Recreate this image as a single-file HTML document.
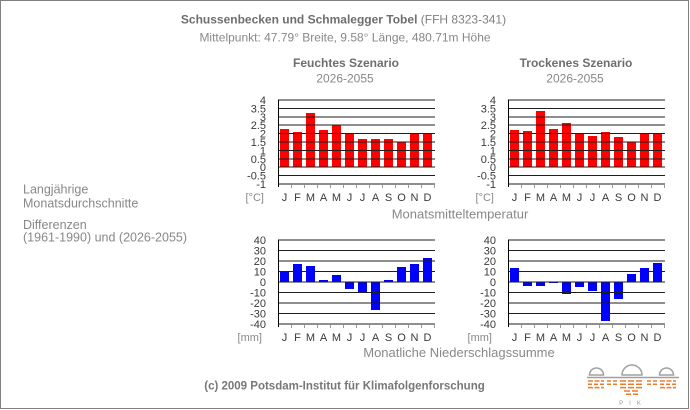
<!DOCTYPE html>
<html><head><meta charset="utf-8"><style>
html,body{margin:0;padding:0;background:#fff;}
svg{display:block;}
text{font-family:"Liberation Sans",Arial,sans-serif;}
</style></head><body>
<svg width="690" height="410" viewBox="0 0 690 410" xmlns="http://www.w3.org/2000/svg">
<rect x="0.5" y="0.5" width="688" height="408" fill="#fff" stroke="#808080" stroke-width="1"/>

<!-- Header -->
<text x="343.5" y="23.5" font-size="12" text-anchor="middle" fill="#6e6e6e"><tspan font-weight="bold">Schussenbecken und Schmalegger Tobel</tspan><tspan fill="#808080"> (FFH 8323-341)</tspan></text>
<text x="345" y="41.5" font-size="12" text-anchor="middle" fill="#888">Mittelpunkt: 47.79° Breite, 9.58° Länge, 480.71m Höhe</text>

<text x="346" y="67" font-size="12" font-weight="bold" text-anchor="middle" fill="#6e6e6e">Feuchtes Szenario</text>
<text x="345" y="82.5" font-size="12" text-anchor="middle" fill="#888">2026-2055</text>
<text x="576" y="67" font-size="12" font-weight="bold" text-anchor="middle" fill="#6e6e6e">Trockenes Szenario</text>
<text x="575" y="82.5" font-size="12" text-anchor="middle" fill="#888">2026-2055</text>

<!-- Left description -->
<g font-size="12.5" fill="#888">
<text x="23" y="193.5">Langjährige</text>
<text x="23" y="207.5">Monatsdurchschnitte</text>
<text x="23" y="229">Differenzen</text>
<text x="23" y="241.5">(1961-1990) und (2026-2055)</text>
</g>

<text x="460" y="218.5" font-size="13" text-anchor="middle" fill="#888">Monatsmitteltemperatur</text>
<text x="459" y="357" font-size="13" text-anchor="middle" fill="#888">Monatliche Niederschlagssumme</text>

<!-- ============ TEMP LEFT ============ -->
<g shape-rendering="crispEdges">
<g fill="#ff0000">
<rect x="280" y="129" width="9" height="38"/>
<rect x="293" y="132" width="9" height="35"/>
<rect x="306" y="113" width="9" height="54"/>
<rect x="319" y="130" width="9" height="37"/>
<rect x="332" y="125" width="9" height="42"/>
<rect x="345" y="133" width="9" height="34"/>
<rect x="358" y="139" width="9" height="28"/>
<rect x="371" y="139" width="9" height="28"/>
<rect x="384" y="139" width="9" height="28"/>
<rect x="397" y="142" width="9" height="25"/>
<rect x="410" y="133" width="9" height="34"/>
<rect x="423" y="133" width="9" height="34"/>
</g>
<g stroke="#1e1e1e" stroke-width="1">
<line x1="278" x2="435" y1="100" y2="100"/>
<line x1="278" x2="435" y1="108.4" y2="108.4"/>
<line x1="278" x2="435" y1="116.8" y2="116.8"/>
<line x1="278" x2="435" y1="125.2" y2="125.2"/>
<line x1="278" x2="435" y1="133.6" y2="133.6"/>
<line x1="278" x2="435" y1="142" y2="142"/>
<line x1="278" x2="435" y1="150.4" y2="150.4"/>
<line x1="278" x2="435" y1="158.8" y2="158.8"/>
<line x1="278" x2="435" y1="167.2" y2="167.2"/>
<line x1="278" x2="435" y1="175.6" y2="175.6"/>
<line x1="278" x2="435" y1="184" y2="184"/>
</g>
<line x1="278.5" x2="278.5" y1="99.5" y2="187" stroke="#000"/>
<g stroke="#999">
<line x1="291.5" x2="291.5" y1="185" y2="188"/><line x1="304.5" x2="304.5" y1="185" y2="188"/><line x1="317.5" x2="317.5" y1="185" y2="188"/><line x1="330.5" x2="330.5" y1="185" y2="188"/><line x1="343.5" x2="343.5" y1="185" y2="188"/><line x1="356.5" x2="356.5" y1="185" y2="188"/><line x1="369.5" x2="369.5" y1="185" y2="188"/><line x1="382.5" x2="382.5" y1="185" y2="188"/><line x1="395.5" x2="395.5" y1="185" y2="188"/><line x1="408.5" x2="408.5" y1="185" y2="188"/><line x1="421.5" x2="421.5" y1="185" y2="188"/><line x1="434.5" x2="434.5" y1="185" y2="188"/>
</g>
</g>
<g font-size="11" fill="#3a3a3a" text-anchor="end">
<text x="266" y="104">4</text><text x="266" y="112.4">3.5</text><text x="266" y="120.8">3</text><text x="266" y="129.2">2.5</text><text x="266" y="137.6">2</text><text x="266" y="146">1.5</text><text x="266" y="154.4">1</text><text x="266" y="162.8">0.5</text><text x="266" y="171.2">0</text><text x="266" y="179.6">-0.5</text><text x="266" y="188">-1</text>
</g>
<text x="264" y="201" font-size="11" fill="#888" text-anchor="end">[°C]</text>
<g font-size="11" fill="#3a3a3a" text-anchor="middle">
<text x="284.5" y="201">J</text><text x="297.5" y="201">F</text><text x="310.5" y="201">M</text><text x="323.5" y="201">A</text><text x="336.5" y="201">M</text><text x="349.5" y="201">J</text><text x="362.5" y="201">J</text><text x="375.5" y="201">A</text><text x="388.5" y="201">S</text><text x="401.5" y="201">O</text><text x="414.5" y="201">N</text><text x="427.5" y="201">D</text>
</g>

<!-- ============ TEMP RIGHT ============ -->
<g shape-rendering="crispEdges">
<g fill="#ff0000">
<rect x="510" y="130" width="9" height="37"/>
<rect x="523" y="131" width="9" height="36"/>
<rect x="536" y="111" width="9" height="56"/>
<rect x="549" y="129" width="9" height="38"/>
<rect x="562" y="123" width="9" height="44"/>
<rect x="575" y="133" width="9" height="34"/>
<rect x="588" y="136" width="9" height="31"/>
<rect x="601" y="132" width="9" height="35"/>
<rect x="614" y="137" width="9" height="30"/>
<rect x="627" y="142" width="9" height="25"/>
<rect x="640" y="133" width="9" height="34"/>
<rect x="653" y="133" width="9" height="34"/>
</g>
<g stroke="#1e1e1e" stroke-width="1">
<line x1="508" x2="665" y1="100" y2="100"/>
<line x1="508" x2="665" y1="108.4" y2="108.4"/>
<line x1="508" x2="665" y1="116.8" y2="116.8"/>
<line x1="508" x2="665" y1="125.2" y2="125.2"/>
<line x1="508" x2="665" y1="133.6" y2="133.6"/>
<line x1="508" x2="665" y1="142" y2="142"/>
<line x1="508" x2="665" y1="150.4" y2="150.4"/>
<line x1="508" x2="665" y1="158.8" y2="158.8"/>
<line x1="508" x2="665" y1="167.2" y2="167.2"/>
<line x1="508" x2="665" y1="175.6" y2="175.6"/>
<line x1="508" x2="665" y1="184" y2="184"/>
</g>
<line x1="508.5" x2="508.5" y1="99.5" y2="187" stroke="#000"/>
<g stroke="#999">
<line x1="521.5" x2="521.5" y1="185" y2="188"/><line x1="534.5" x2="534.5" y1="185" y2="188"/><line x1="547.5" x2="547.5" y1="185" y2="188"/><line x1="560.5" x2="560.5" y1="185" y2="188"/><line x1="573.5" x2="573.5" y1="185" y2="188"/><line x1="586.5" x2="586.5" y1="185" y2="188"/><line x1="599.5" x2="599.5" y1="185" y2="188"/><line x1="612.5" x2="612.5" y1="185" y2="188"/><line x1="625.5" x2="625.5" y1="185" y2="188"/><line x1="638.5" x2="638.5" y1="185" y2="188"/><line x1="651.5" x2="651.5" y1="185" y2="188"/><line x1="664.5" x2="664.5" y1="185" y2="188"/>
</g>
</g>
<g font-size="11" fill="#3a3a3a" text-anchor="end">
<text x="496" y="104">4</text><text x="496" y="112.4">3.5</text><text x="496" y="120.8">3</text><text x="496" y="129.2">2.5</text><text x="496" y="137.6">2</text><text x="496" y="146">1.5</text><text x="496" y="154.4">1</text><text x="496" y="162.8">0.5</text><text x="496" y="171.2">0</text><text x="496" y="179.6">-0.5</text><text x="496" y="188">-1</text>
</g>
<text x="494" y="201" font-size="11" fill="#888" text-anchor="end">[°C]</text>
<g font-size="11" fill="#3a3a3a" text-anchor="middle">
<text x="514.5" y="201">J</text><text x="527.5" y="201">F</text><text x="540.5" y="201">M</text><text x="553.5" y="201">A</text><text x="566.5" y="201">M</text><text x="579.5" y="201">J</text><text x="592.5" y="201">J</text><text x="605.5" y="201">A</text><text x="618.5" y="201">S</text><text x="631.5" y="201">O</text><text x="644.5" y="201">N</text><text x="657.5" y="201">D</text>
</g>

<!-- ============ PRECIP LEFT ============ -->
<g shape-rendering="crispEdges">
<g fill="#0000ff">
<rect x="280" y="272" width="9" height="10"/>
<rect x="293" y="264" width="9" height="18"/>
<rect x="306" y="266" width="9" height="16"/>
<rect x="319" y="280" width="9" height="2"/>
<rect x="332" y="275" width="9" height="7"/>
<rect x="345" y="282" width="9" height="7"/>
<rect x="358" y="282" width="9" height="10"/>
<rect x="371" y="282" width="9" height="28"/>
<rect x="384" y="280" width="9" height="2"/>
<rect x="397" y="267" width="9" height="15"/>
<rect x="410" y="264" width="9" height="18"/>
<rect x="423" y="258" width="9" height="24"/>
</g>
<g stroke="#1e1e1e" stroke-width="1">
<line x1="278" x2="435" y1="240" y2="240"/>
<line x1="278" x2="435" y1="250.5" y2="250.5"/>
<line x1="278" x2="435" y1="261" y2="261"/>
<line x1="278" x2="435" y1="271.5" y2="271.5"/>
<line x1="278" x2="435" y1="282" y2="282"/>
<line x1="278" x2="435" y1="292.5" y2="292.5"/>
<line x1="278" x2="435" y1="303" y2="303"/>
<line x1="278" x2="435" y1="313.5" y2="313.5"/>
<line x1="278" x2="435" y1="324" y2="324"/>
</g>
<line x1="278.5" x2="278.5" y1="239.5" y2="327" stroke="#000"/>
<g stroke="#999">
<line x1="291.5" x2="291.5" y1="325" y2="328"/><line x1="304.5" x2="304.5" y1="325" y2="328"/><line x1="317.5" x2="317.5" y1="325" y2="328"/><line x1="330.5" x2="330.5" y1="325" y2="328"/><line x1="343.5" x2="343.5" y1="325" y2="328"/><line x1="356.5" x2="356.5" y1="325" y2="328"/><line x1="369.5" x2="369.5" y1="325" y2="328"/><line x1="382.5" x2="382.5" y1="325" y2="328"/><line x1="395.5" x2="395.5" y1="325" y2="328"/><line x1="408.5" x2="408.5" y1="325" y2="328"/><line x1="421.5" x2="421.5" y1="325" y2="328"/><line x1="434.5" x2="434.5" y1="325" y2="328"/>
</g>
</g>
<g font-size="11" fill="#3a3a3a" text-anchor="end">
<text x="266" y="244">40</text><text x="266" y="254.5">30</text><text x="266" y="265">20</text><text x="266" y="275.5">10</text><text x="266" y="286">0</text><text x="266" y="296.5">-10</text><text x="266" y="307">-20</text><text x="266" y="317.5">-30</text><text x="266" y="328">-40</text>
</g>
<text x="262" y="341" font-size="11" fill="#888" text-anchor="end">[mm]</text>
<g font-size="11" fill="#3a3a3a" text-anchor="middle">
<text x="284.5" y="341">J</text><text x="297.5" y="341">F</text><text x="310.5" y="341">M</text><text x="323.5" y="341">A</text><text x="336.5" y="341">M</text><text x="349.5" y="341">J</text><text x="362.5" y="341">J</text><text x="375.5" y="341">A</text><text x="388.5" y="341">S</text><text x="401.5" y="341">O</text><text x="414.5" y="341">N</text><text x="427.5" y="341">D</text>
</g>

<!-- ============ PRECIP RIGHT ============ -->
<g shape-rendering="crispEdges">
<g fill="#0000ff">
<rect x="510" y="268" width="9" height="14"/>
<rect x="523" y="282" width="9" height="4"/>
<rect x="536" y="282" width="9" height="4"/>
<rect x="549" y="282" width="9" height="1"/>
<rect x="562" y="282" width="9" height="12"/>
<rect x="575" y="282" width="9" height="5"/>
<rect x="588" y="282" width="9" height="9"/>
<rect x="601" y="282" width="9" height="39"/>
<rect x="614" y="282" width="9" height="17"/>
<rect x="627" y="274" width="9" height="8"/>
<rect x="640" y="268" width="9" height="14"/>
<rect x="653" y="263" width="9" height="19"/>
</g>
<g stroke="#1e1e1e" stroke-width="1">
<line x1="508" x2="665" y1="240" y2="240"/>
<line x1="508" x2="665" y1="250.5" y2="250.5"/>
<line x1="508" x2="665" y1="261" y2="261"/>
<line x1="508" x2="665" y1="271.5" y2="271.5"/>
<line x1="508" x2="665" y1="282" y2="282"/>
<line x1="508" x2="665" y1="292.5" y2="292.5"/>
<line x1="508" x2="665" y1="303" y2="303"/>
<line x1="508" x2="665" y1="313.5" y2="313.5"/>
<line x1="508" x2="665" y1="324" y2="324"/>
</g>
<line x1="508.5" x2="508.5" y1="239.5" y2="327" stroke="#000"/>
<g stroke="#999">
<line x1="521.5" x2="521.5" y1="325" y2="328"/><line x1="534.5" x2="534.5" y1="325" y2="328"/><line x1="547.5" x2="547.5" y1="325" y2="328"/><line x1="560.5" x2="560.5" y1="325" y2="328"/><line x1="573.5" x2="573.5" y1="325" y2="328"/><line x1="586.5" x2="586.5" y1="325" y2="328"/><line x1="599.5" x2="599.5" y1="325" y2="328"/><line x1="612.5" x2="612.5" y1="325" y2="328"/><line x1="625.5" x2="625.5" y1="325" y2="328"/><line x1="638.5" x2="638.5" y1="325" y2="328"/><line x1="651.5" x2="651.5" y1="325" y2="328"/><line x1="664.5" x2="664.5" y1="325" y2="328"/>
</g>
</g>
<g font-size="11" fill="#3a3a3a" text-anchor="end">
<text x="496" y="244">40</text><text x="496" y="254.5">30</text><text x="496" y="265">20</text><text x="496" y="275.5">10</text><text x="496" y="286">0</text><text x="496" y="296.5">-10</text><text x="496" y="307">-20</text><text x="496" y="317.5">-30</text><text x="496" y="328">-40</text>
</g>
<text x="492" y="341" font-size="11" fill="#888" text-anchor="end">[mm]</text>
<g font-size="11" fill="#3a3a3a" text-anchor="middle">
<text x="514.5" y="341">J</text><text x="527.5" y="341">F</text><text x="540.5" y="341">M</text><text x="553.5" y="341">A</text><text x="566.5" y="341">M</text><text x="579.5" y="341">J</text><text x="592.5" y="341">J</text><text x="605.5" y="341">A</text><text x="618.5" y="341">S</text><text x="631.5" y="341">O</text><text x="644.5" y="341">N</text><text x="657.5" y="341">D</text>
</g>

<!-- Footer -->
<text x="344.5" y="389.5" font-size="11.5" font-weight="bold" text-anchor="middle" fill="#777">(c) 2009 Potsdam-Institut für Klimafolgenforschung</text>

<!-- PIK logo -->
<g fill="none" stroke="#a0a0a0" stroke-width="1.5">
<path d="M589.5,375 A7,7 0 0 1 603.5,375 Z"/>
<path d="M622,375 A10,10 0 0 1 642,375 Z"/>
<path d="M659.5,375 A7,7 0 0 1 673.5,375 Z"/>
<line x1="587" x2="679" y1="377.5" y2="377.5"/>
</g>
<g stroke="#f07a2a" stroke-width="1.5" fill="none">
<line x1="588" x2="604" y1="381" y2="381" stroke-dasharray="5 1.5"/>
<line x1="588" x2="604" y1="384.3" y2="384.3" stroke-dasharray="4 2"/>
<line x1="588" x2="604" y1="387.6" y2="387.6" stroke-dasharray="5 1.5"/>
<line x1="607" x2="617" y1="381" y2="381" stroke-dasharray="4 2"/>
<line x1="607" x2="617" y1="384.3" y2="384.3" stroke-dasharray="4 2"/>
<line x1="620" x2="644" y1="381" y2="381" stroke-dasharray="6 2"/>
<line x1="620" x2="644" y1="384.3" y2="384.3" stroke-dasharray="6 2"/>
<line x1="620" x2="644" y1="387.6" y2="387.6" stroke-dasharray="6 2"/>
<line x1="624" x2="640" y1="391" y2="391" stroke-dasharray="6 2"/>
<line x1="626" x2="638" y1="394.3" y2="394.3" stroke-dasharray="5 2"/>
<line x1="647" x2="657" y1="381" y2="381" stroke-dasharray="4 2"/>
<line x1="647" x2="657" y1="384.3" y2="384.3" stroke-dasharray="4 2"/>
<line x1="660" x2="676" y1="381" y2="381" stroke-dasharray="5 1.5"/>
<line x1="660" x2="676" y1="384.3" y2="384.3" stroke-dasharray="4 2"/>
<line x1="660" x2="676" y1="387.6" y2="387.6" stroke-dasharray="5 1.5"/>
</g>
<text x="633" y="405" font-size="6" fill="#999" text-anchor="middle" letter-spacing="6">PIK</text>
</svg>
</body></html>
